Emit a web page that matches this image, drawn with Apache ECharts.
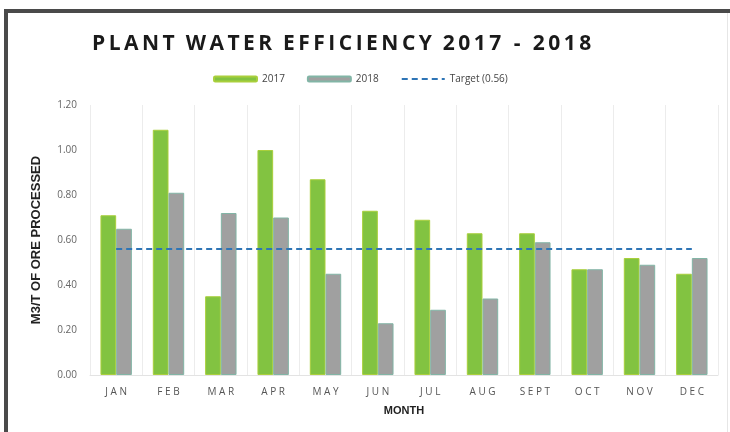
<!DOCTYPE html>
<html>
<head>
<meta charset="utf-8">
<script src="https://cdn.jsdelivr.net/npm/echarts@6/dist/echarts.min.js"></script>
<style>
html, body { margin: 0; padding: 0; background: #fff; }
#chart { width: 730px; height: 432px; }
</style>
</head>
<body>
<div id="chart"></div>
<script>
var months = ["JAN", "FEB", "MAR", "APR", "MAY", "JUN", "JUL", "AUG", "SEPT", "OCT", "NOV", "DEC"];
var eff2017 = [0.71, 1.09, 0.35, 1.00, 0.87, 0.73, 0.69, 0.63, 0.63, 0.47, 0.52, 0.45];
var eff2018 = [0.65, 0.81, 0.72, 0.70, 0.45, 0.23, 0.29, 0.34, 0.59, 0.47, 0.49, 0.52];
var target = [0.56, 0.56, 0.56, 0.56, 0.56, 0.56, 0.56, 0.56, 0.56, 0.56, 0.56, 0.56];
var yTicks = [0, 0.2, 0.4, 0.6, 0.8, 1.0, 1.2];

// letter spacing, the picture has it on title and month labels
function spaced(s, sep) {
	return s.split("").join(sep);
}

var titleWords = ["PLANT", "WATER", "EFFICIENCY", "2017 - 2018"];

var myChart = echarts.init(document.getElementById("chart"));

var option = {
	animation: false,
	backgroundColor: "#fff",
	graphic: [
		{ type: "rect", shape: { x: 4, y: 9, width: 726, height: 4 }, style: { fill: "#4a4a4a" } },
		{ type: "rect", shape: { x: 4, y: 9, width: 4, height: 423 }, style: { fill: "#4a4a4a" } },
		{ type: "rect", shape: { x: 727, y: 13, width: 1, height: 419 }, style: { fill: "#e6e6e6" } }
	],
	title: {
		text: titleWords.map(function (w) { return spaced(w, "\u2009"); }).join("  "),
		left: 87,
		top: 29,
		textStyle: {
			fontFamily: "Open Sans",
			fontWeight: "bold",
			fontSize: 21,
			color: "#1a1a1a"
		}
	},
	legend: {
		top: 69,
		left: 208,
		itemWidth: 43,
		itemHeight: 5,
		itemGap: 22,
		textStyle: { fontFamily: "Open Sans", fontSize: 10, color: "#444" },
		data: ["2017", "2018", { name: "Target (0.56)", itemStyle: { opacity: 0 } }]
	},
	grid: { left: 90, right: 12, top: 105, bottom: 57 },
	xAxis: {
		type: "category",
		data: months,
		name: "MONTH",
		nameLocation: "middle",
		nameGap: 30,
		nameTextStyle: { fontFamily: "Liberation Sans", fontWeight: "bold", fontSize: 11, color: "#222" },
		axisLine: { lineStyle: { color: "#e3e3e3" } },
		axisTick: { show: false },
		axisLabel: {
			margin: 12,
			fontFamily: "Open Sans",
			fontSize: 10,
			color: "#555",
			formatter: function (v) { return spaced(v, " "); }
		},
		splitLine: { show: true, lineStyle: { color: "#ececec" } }
	},
	yAxis: {
		type: "value",
		min: 0,
		max: 1.2,
		interval: 0.2,
		name: "M3/T OF ORE PROCESSED",
		nameLocation: "middle",
		nameGap: 47,
		nameTextStyle: { fontFamily: "Liberation Sans", fontWeight: "bold", fontSize: 13, color: "#222" },
		axisLine: { show: false },
		axisTick: { show: false },
		splitLine: { show: false },
		axisLabel: {
			margin: 13,
			fontFamily: "Open Sans",
			fontSize: 10,
			color: "#666",
			formatter: function (v) { return v.toFixed(2); }
		}
	},
	series: [
		{
			name: "2017",
			type: "bar",
			data: eff2017,
			barWidth: "30%",
			barGap: "0%",
			itemStyle: { color: "#82c341", borderColor: "#a9cf3c", borderWidth: 1 }
		},
		{
			name: "2018",
			type: "bar",
			data: eff2018,
			barWidth: "30%",
			barGap: "0%",
			itemStyle: { color: "#a0a0a0", borderColor: "#82b5a6", borderWidth: 1 }
		},
		{
			name: "Target (0.56)",
			type: "line",
			data: target,
			symbol: "none",
			z: 5,
			lineStyle: { color: "#2e75b6", width: 2, type: [6, 4] },
			itemStyle: { color: "#2e75b6" }
		}
	]
};

myChart.setOption(option);
</script>
</body>
</html>
